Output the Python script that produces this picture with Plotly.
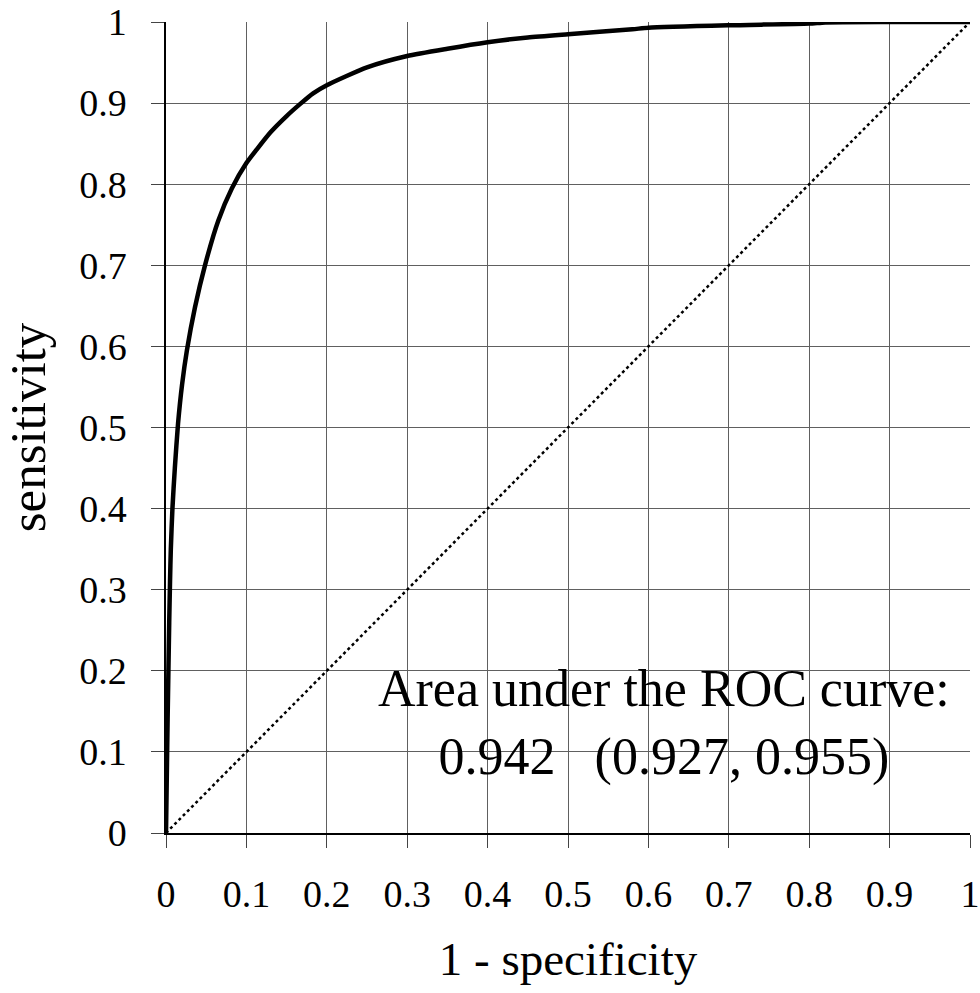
import plotly.graph_objects as go

# ROC curve
fpr = [0, 0.001, 0.002, 0.003, 0.004, 0.005, 0.006, 0.008, 0.011, 0.015, 0.02, 0.026,
       0.036, 0.0485, 0.065, 0.082, 0.1, 0.113, 0.13, 0.15, 0.167, 0.183, 0.2, 0.25, 0.3,
       0.35, 0.4, 0.45, 0.5, 0.58, 0.6, 0.7, 0.8, 0.82, 0.9, 1.0]
tpr = [0, 0.07, 0.14, 0.2, 0.26, 0.31, 0.35, 0.40, 0.45, 0.505, 0.553, 0.595,
       0.648, 0.70, 0.755, 0.795, 0.826, 0.843, 0.864, 0.884, 0.899, 0.912, 0.922, 0.944, 0.958,
       0.967, 0.975, 0.981, 0.985, 0.991, 0.993, 0.996, 0.998, 0.9995, 1.0, 1.0]

diag_x = [0, 1]
diag_y = [0, 1]

tick_vals = [0, 0.1, 0.2, 0.3, 0.4, 0.5, 0.6, 0.7, 0.8, 0.9, 1]
tick_text = ["0", "0.1", "0.2", "0.3", "0.4", "0.5", "0.6", "0.7", "0.8", "0.9", "1"]

auc_text = "Area under the ROC curve:<br>0.942   (0.927, 0.955)"

FONT = "Liberation Serif, Times New Roman, serif"

fig = go.Figure()
fig.add_trace(go.Scatter(x=diag_x, y=diag_y, mode="lines",
                         line=dict(color="black", width=2.5, dash="dot"),
                         showlegend=False, hoverinfo="skip"))
fig.add_trace(go.Scatter(x=fpr, y=tpr, mode="lines",
                         line=dict(color="black", width=4.5, shape="spline", smoothing=0.6),
                         showlegend=False))

# white box behind the annotation text (hides gridlines)
fig.add_shape(type="rect", xref="x", yref="y", x0=0.254, x1=0.937, y0=0.063, y1=0.225,
              fillcolor="white", line=dict(width=0), layer="below")

fig.add_annotation(x=0.62, y=0.136, xref="x", yref="y", text=auc_text, showarrow=False,
                   font=dict(family=FONT, size=52, color="black"),
                   xanchor="center", yanchor="middle", align="center")

axis_common = dict(
    range=[0, 1], tickvals=tick_vals, ticktext=tick_text,
    showgrid=True, gridcolor="#606060", gridwidth=1,
    showline=True, linecolor="black", linewidth=1.5,
    ticks="outside", ticklen=13, tickcolor="#444", tickwidth=1,
    tickfont=dict(family=FONT, size=38, color="black"),
    ticklabeloverflow="allow",
    zeroline=False, fixedrange=True,
)

fig.update_xaxes(**axis_common, title=dict(text="1 - specificity",
                 font=dict(family=FONT, size=47, color="black"), standoff=28),
                 ticklabelstandoff=14)
fig.update_yaxes(**axis_common, title=dict(text="sensitivity",
                 font=dict(family=FONT, size=51, color="black"), standoff=26),
                 ticklabelstandoff=17)

fig.update_layout(
    width=980, height=993,
    margin=dict(l=166, r=10, t=22, b=160, autoexpand=False),
    paper_bgcolor="white", plot_bgcolor="white",
    font=dict(family=FONT, color="black"),
)

# remove the browser's default 8 px body margin so the figure fills the window exactly
fig.write_html("out.html", config={"displayModeBar": False},
               post_script="document.body.style.margin='0';")
